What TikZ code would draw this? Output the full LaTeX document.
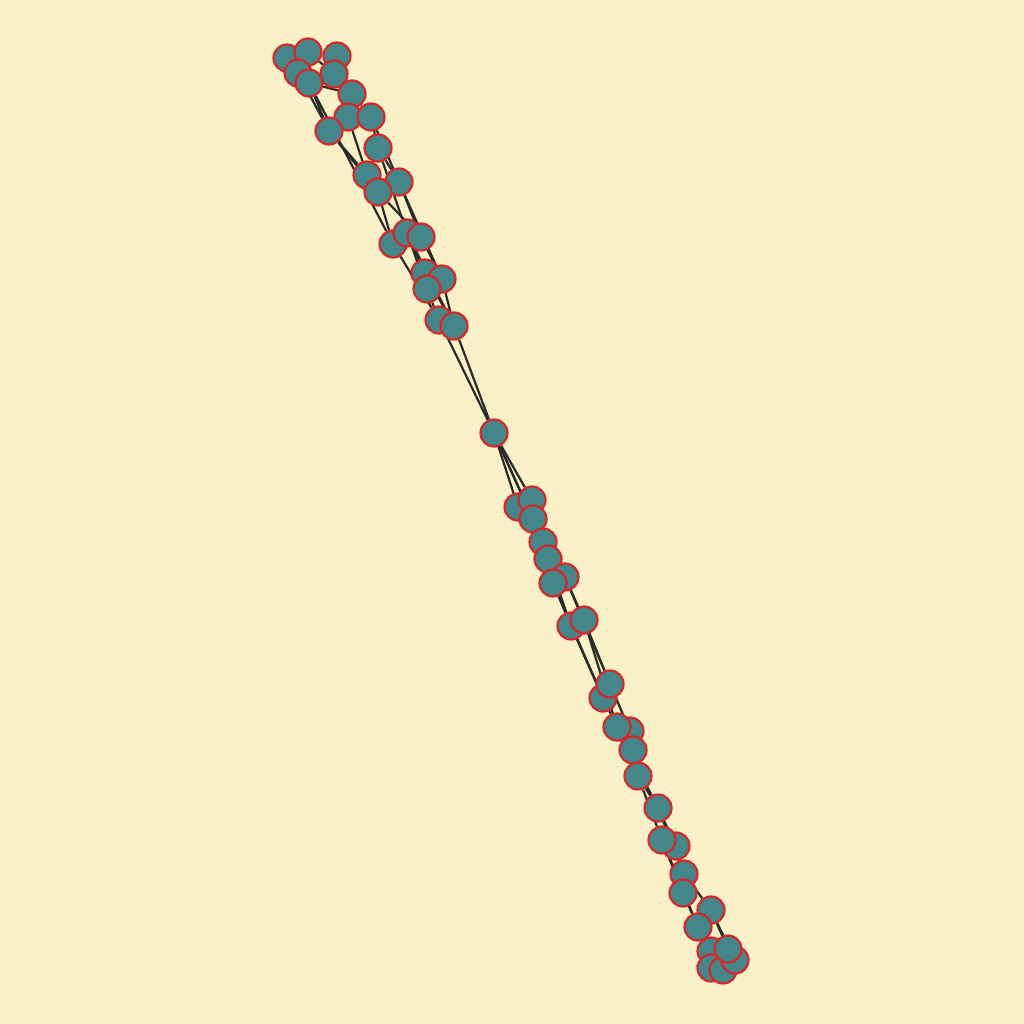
\documentclass[tikz,border=0pt]{standalone}
\definecolor{bgc}{RGB}{250,241,200}
\definecolor{nfill}{RGB}{69,134,138}
\definecolor{nline}{RGB}{214,40,40}
\definecolor{ecol}{RGB}{42,42,42}
\pgfdeclarelayer{bgfill}
\pgfdeclarelayer{edges}
\pgfsetlayers{bgfill,edges,main}
\begin{document}
\begin{tikzpicture}[x=1pt,y=-1pt,
  vert/.style={circle,fill=nfill,draw=nline,line width=2.2pt,minimum size=27pt,inner sep=0pt},
  edge/.style={draw=ecol,line width=2.2pt}]
\begin{pgfonlayer}{bgfill}
\fill[bgc] (0,0) rectangle (1024,1024);
\end{pgfonlayer}
\useasboundingbox (0,0) rectangle (1024,1024);
\foreach \n/\x/\y in {1/287/58,2/308/52,3/337/56,4/298/73,5/334/74,6/309/83,7/352/94,8/348/117,9/371/117,10/329/131,11/378/148,12/367/175,13/399/182,14/378/192,15/393/244,16/407/233,17/421/237,18/425/273,19/442/279,20/427/289,21/439/320,22/454/326,23/494/433,24/518/507,25/532/500,26/533/519,27/543/542,28/548/559,29/565/577,30/553/583,31/571/626,32/584/620,33/603/698,34/610/684,35/630/731,36/617/727,37/633/750,38/638/776,39/658/808,40/676/846,41/662/840,42/684/874,43/683/893,44/711/910,45/698/927,46/711/951,47/711/968,48/723/970,49/735/960,50/728/949}
  {\node[vert] (v\n) at (\x,\y) {};}
\begin{pgfonlayer}{edges}
\foreach \a/\b in {1/2,1/4,2/5,3/5,4/6,5/7,6/7,4/10,6/10,6/15,7/8,7/9,8/12,10/12,10/14,9/11,9/13,11/13,11/16,12/14,14/15,14/17,13/17,13/19,16/18,16/20,15/21,17/19,18/20,19/22,20/21,18/22,21/23,22/23,16/22,
23/24,23/25,23/26,23/27,24/26,25/27,26/28,27/30,28/29,29/32,30/31,28/31,30/33,29/34,31/33,32/34,32/36,33/36,34/35,35/37,36/37,37/38,36/39,38/39,38/41,39/40,39/42,41/43,40/42,42/44,43/45,41/45,44/49,45/46,45/47,46/48,44/50,47/48,49/50,46/50,48/49}
  {\draw[edge] (v\a) -- (v\b);}
\end{pgfonlayer}
\end{tikzpicture}
\end{document}
